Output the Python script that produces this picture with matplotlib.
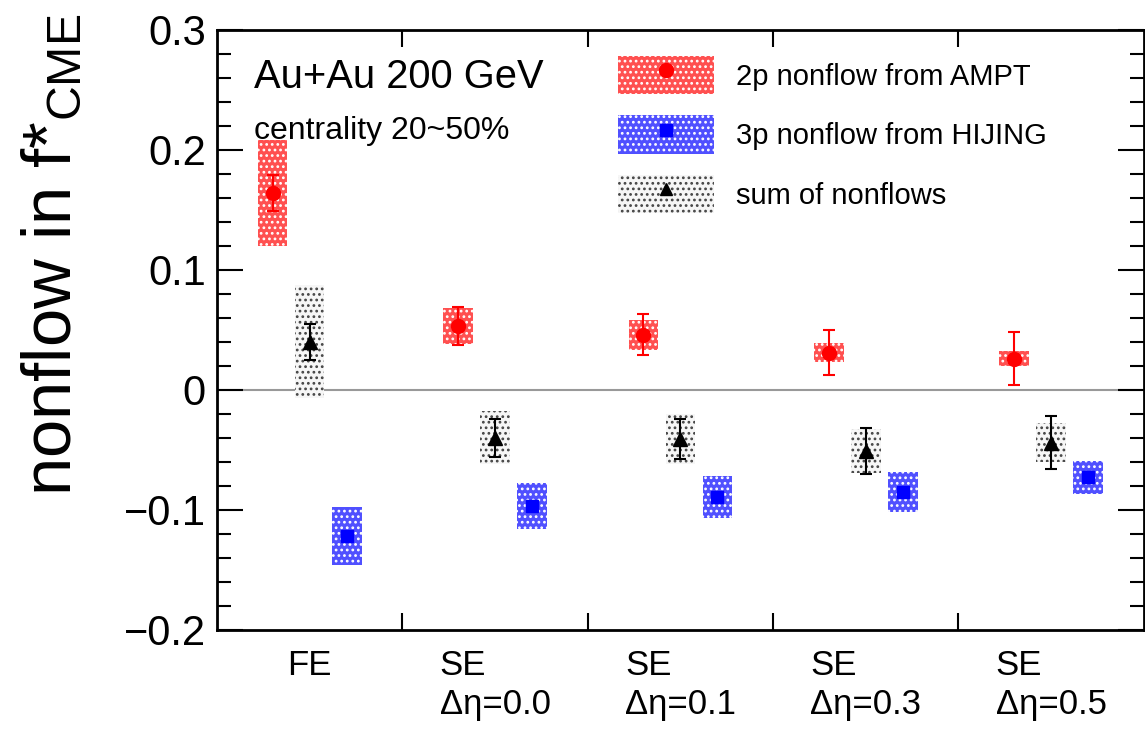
import numpy as np
import matplotlib.pyplot as plt
from matplotlib.patches import Rectangle, Patch
from matplotlib.lines import Line2D

plt.rcParams['font.family'] = ['Liberation Sans', 'DejaVu Sans']
plt.rcParams['mathtext.fontset'] = 'custom'
plt.rcParams['mathtext.rm'] = 'Liberation Sans'
plt.rcParams['mathtext.it'] = 'Liberation Sans'
plt.rcParams['hatch.linewidth'] = 1.2

# categories
labels = ["FE", "SE\nΔη=0.0", "SE\nΔη=0.1", "SE\nΔη=0.3", "SE\nΔη=0.5"]

# 2p nonflow from AMPT
ampt_y = [0.164, 0.053, 0.046, 0.031, 0.026]
ampt_stat = [0.015, 0.016, 0.017, 0.019, 0.022]
ampt_sys = [0.044, 0.015, 0.0125, 0.008, 0.006]

# 3p nonflow from HIJING
hijing_y = [-0.122, -0.097, -0.089, -0.085, -0.073]
hijing_stat = [0.003, 0.003, 0.003, 0.003, 0.003]
hijing_sys = [0.024, 0.019, 0.0176, 0.0168, 0.0135]

# sum of nonflows
sum_y = [0.040, -0.040, -0.041, -0.051, -0.044]
sum_stat = [0.015, 0.016, 0.017, 0.019, 0.022]
sum_sys = [0.047, 0.022, 0.021, 0.018, 0.016]


def draw_series(ax, x, y, stat, sys, face, hatch_col, color, marker, ms):
    for xi, yi, si in zip(x, y, sys):
        ax.add_patch(Rectangle((xi - 0.08, yi - si), 0.16, 2 * si,
                               facecolor=face, edgecolor=hatch_col, hatch='...',
                               linewidth=0, zorder=2))
    ax.errorbar(x, y, yerr=stat, fmt=marker, color=color, ms=ms,
                elinewidth=1.5, capsize=4, capthick=1.5, zorder=3)


def main():
    fig = plt.figure(figsize=(11.45, 7.29), dpi=100)
    ax = fig.add_axes([0.1895, 0.136, 0.8095, 0.823])

    groups = np.arange(len(labels))
    ax.axhline(0, color='#999999', lw=1.5, zorder=1)

    draw_series(ax, groups + 0.3, ampt_y, ampt_stat, ampt_sys,
                '#ff5050', 'white', 'red', 'o', 10)
    draw_series(ax, groups + 0.7, hijing_y, hijing_stat, hijing_sys,
                '#5050ff', 'white', 'blue', 's', 9)
    draw_series(ax, groups + 0.5, sum_y, sum_stat, sum_sys,
                '#f6f6f6', '#444444', 'black', '^', 10)

    ax.set_xlim(0, 5)
    ax.set_ylim(-0.2, 0.3)

    ax.set_xticks([1, 2, 3, 4])
    ax.set_xticklabels([])
    ax.set_xticks(groups + 0.5, labels, minor=True)
    ax.tick_params(axis='x', which='major', direction='in', length=12.5,
                   width=1.5, top=True)
    ax.tick_params(axis='x', which='minor', length=0, labelsize=25, pad=14)
    for lab in ax.get_xticklabels(minor=True):
        lab.set_multialignment('left')

    ax.set_yticks([-0.2, -0.1, 0, 0.1, 0.2, 0.3])
    ax.set_yticklabels(['\u22120.2', '\u22120.1', '0', '0.1', '0.2', '0.3'])
    ax.set_yticks(np.arange(-0.2, 0.3001, 0.02), minor=True)
    ax.tick_params(axis='y', which='major', direction='in', length=19,
                   width=1.5, right=True, labelsize=30, pad=8)
    ax.tick_params(axis='y', which='minor', direction='in', length=10,
                   width=1.5, right=True)
    for s in ax.spines.values():
        s.set_linewidth(2)

    fig.text(53 / 1145, 1 - 255 / 729, r"nonflow in f*$_{\mathregular{CME}}$",
             rotation=90, ha='center', va='center', fontsize=49.5)

    ax.text(254 / 1145, 1 - 88 / 729, "Au+Au 200 GeV", transform=fig.transFigure,
            fontsize=28.7, va='baseline')
    ax.text(254 / 1145, 1 - 139 / 729, "centrality 20~50%", transform=fig.transFigure,
            fontsize=23, va='baseline')

    h_ampt = (Patch(facecolor='#ff5050', edgecolor='white', hatch='...', linewidth=0),
              Line2D([], [], marker='o', color='red', ls='none', ms=10))
    h_hijing = (Patch(facecolor='#5050ff', edgecolor='white', hatch='...', linewidth=0),
                Line2D([], [], marker='s', color='blue', ls='none', ms=9))
    h_sum = (Patch(facecolor='#f6f6f6', edgecolor='#444444', hatch='...', linewidth=0),
             Line2D([], [], marker='^', color='black', ls='none', ms=9))
    fig.legend([h_ampt, h_hijing, h_sum],
               ["2p nonflow from AMPT", "3p nonflow from HIJING", "sum of nonflows"],
               loc='upper left', bbox_to_anchor=(618 / 1145, 1 - 56 / 729),
               frameon=False, fontsize=21, handlelength=3.3, handleheight=1.65,
               handletextpad=0.75, labelspacing=0.72, borderpad=0, borderaxespad=0)

    fig.savefig("out.png", dpi=100)


if __name__ == "__main__":
    main()
